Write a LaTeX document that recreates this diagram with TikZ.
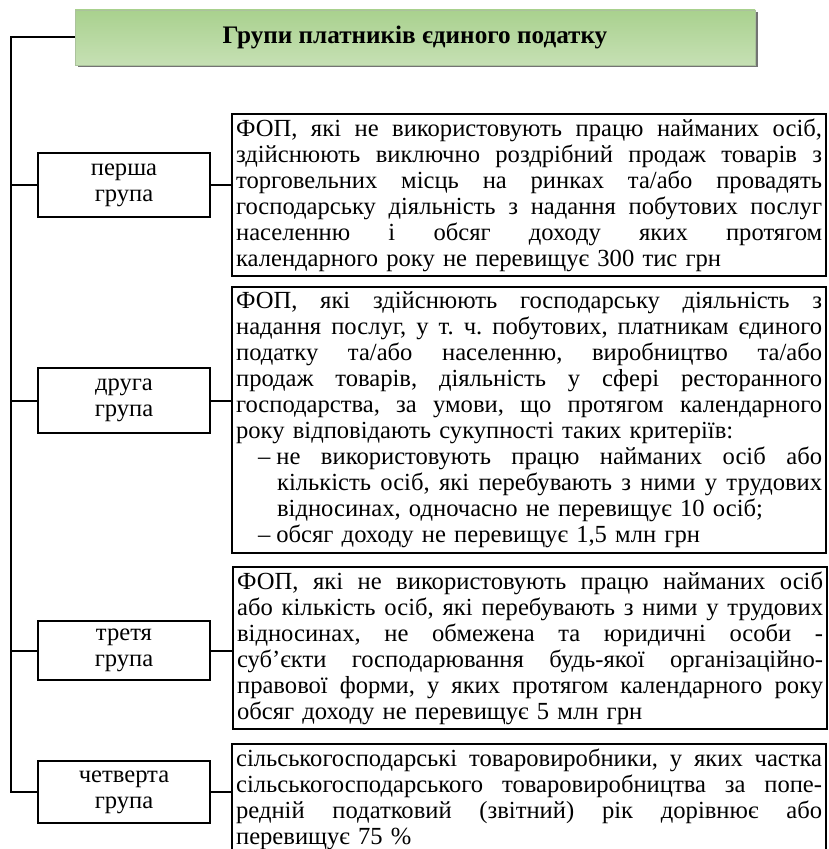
\documentclass[tikz,border=0pt]{standalone}
\usepackage{fontspec}
\setmainfont{Liberation Serif}
\usetikzlibrary{shadows}

% one drawing unit = one pixel of the layout grid
\newdimen\px \px=0.5pt
\lineskiplimit=-100pt

% width of the text in the description boxes
\newdimen\infowidth \infowidth=586\px

\definecolor{headtop}{HTML}{A9D18E}
\definecolor{headmid}{HTML}{E4F0DC}
\definecolor{headbot}{HTML}{C6E0B4}

% a line spread out to the full width of its box
\newcommand\jline[1]{\noindent\hbox to \infowidth{\spaceskip=0.25em plus 1fil minus 0.02em\relax #1}}

\tikzset{
  body/.style={font=\fontsize{12.3pt}{13pt}\selectfont\frenchspacing},
  link/.style={line width=1pt},
  heading/.style={draw=headtop!80!black!70, line width=0.4pt,
    top color=headtop, middle color=headmid, bottom color=headbot,
    minimum width=680\px, minimum height=55\px, inner sep=0pt,
    font=\fontsize{12.6pt}{13pt}\selectfont\bfseries,
    drop shadow={shadow xshift=2.5\px, shadow yshift=-2.5\px, fill=black!55, opacity=1}},
  grp/.style={draw, line width=1pt, body, align=center,
    minimum width=172\px, inner sep=0pt},
  info/.style={draw, line width=1.1pt, body, align=left, anchor=north west,
    text width=\infowidth, inner xsep=4\px, inner ysep=0pt}
}

\begin{document}
\begin{tikzpicture}[x=0.5pt, y=-0.5pt]
\useasboundingbox (0,0) rectangle (828,849);

% heading
\node[heading] (title) at (415,37.5) {Групи платників єдиного податку};

% the four groups
\node[grp, minimum height=64\px] (g1) at (124,185) {перша\\група};
\node[grp, minimum height=65\px] (g2) at (124,400.5) {друга\\група};
\node[grp, minimum height=59\px] (g3) at (124,650.5) {третя\\група};
\node[grp, minimum height=62\px] (g4) at (124,792) {четверта\\група};

% descriptions
\node[info, minimum height=162\px] (t1) at (231,113) {%
\jline{ФОП, які не використовують працю найманих осіб,}\\
\jline{здійснюють виключно роздрібний продаж товарів з}\\
\jline{торговельних місць на ринках та/або провадять}\\
\jline{господарську діяльність з надання побутових послуг}\\
\jline{населенню і обсяг доходу яких протягом}\\
календарного року не перевищує 300 тис грн};

\node[info, minimum height=266\px] (t2) at (231,286) {%
\jline{ФОП, які здійснюють господарську діяльність з}\\
\jline{надання послуг, у т. ч. побутових, платникам єдиного}\\
\jline{податку та/або населенню, виробництво та/або}\\
\jline{продаж товарів, діяльність у сфері ресторанного}\\
\jline{господарства, за умови, що протягом календарного}\\
року відповідають сукупності таких критеріїв:\\
\jline{\hspace*{22\px}–\hspace{6\px}не використовують працю найманих осіб або}\\
\jline{\hspace*{41\px}кількість осіб, які перебувають з ними у трудових}\\
\hspace*{41\px}відносинах, одночасно не перевищує 10 осіб;\\
\hspace*{22\px}–\hspace{6\px}обсяг доходу не перевищує 1,5 млн грн};

\node[info, minimum height=162\px] (t3) at (232,566) {%
\jline{ФОП, які не використовують працю найманих осіб}\\
\jline{або кількість осіб, які перебувають з ними у трудових}\\
\jline{відносинах, не обмежена та юридичні особи -}\\
\jline{суб’єкти господарювання будь-якої організаційно-}\\
\jline{правової форми, у яких протягом календарного року}\\
обсяг доходу не перевищує 5 млн грн};

\node[info, minimum height=110\px] (t4) at (231,743) {%
\jline{сільськогосподарські товаровиробники, у яких частка}\\
\jline{сільськогосподарського товаровиробництва за попе-}\\
\jline{редній податковий (звітний) рік дорівнює або}\\
перевищує 75 \%};

% spine from the heading down to the last group
\coordinate (spine) at (11,0);
\draw[link] (title.west) -| (spine |- g4.west) -- (g4.west);
\foreach \g in {g1,g2,g3}
  \draw[link] (spine |- \g.west) -- (\g.west);

% each group to its description
\foreach \g/\t in {g1/t1,g2/t2,g3/t3,g4/t4}
  \draw[link] (\g.east) -- (\g.east -| \t.west);
\end{tikzpicture}
\end{document}
